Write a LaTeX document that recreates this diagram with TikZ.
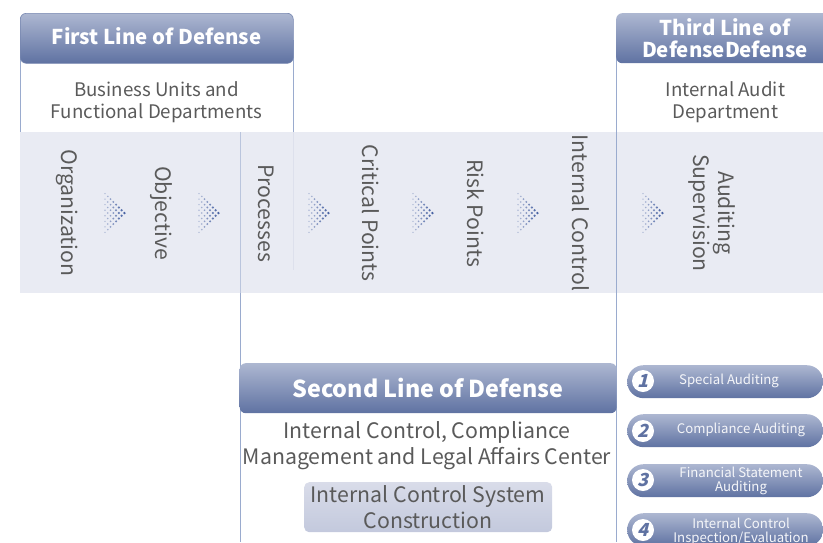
\documentclass[tikz,border=0pt]{standalone}
\usepackage{xcolor}
\usepackage{fontspec}
\setmainfont{Noto Sans CJK SC}
\newfontfamily\badgefont[FakeSlant=0.25]{Noto Sans CJK SC}
\definecolor{headtop}{HTML}{ADB7D1}
\definecolor{headbottom}{HTML}{5F72A2}
\definecolor{bandfill}{HTML}{E9EBF3}
\definecolor{rulecol}{HTML}{9AABCE}
\definecolor{fadecol}{HTML}{DDE0EC}
\definecolor{textcol}{HTML}{5A5A5A}
\definecolor{dotcol}{HTML}{4560A2}
\definecolor{boxtop}{HTML}{D9DCE9}
\definecolor{boxbottom}{HTML}{C3C9DD}
\tikzset{
  head/.style={shape=rectangle,rounded corners=6pt,top color=headtop,bottom color=headbottom,minimum height=50pt,anchor=north west,inner sep=0pt},
  headlabel/.style={text=white,align=center,inner sep=0pt,font=\bfseries\fontsize{20.4}{22}\selectfont},
  pill/.style={shape=rectangle,rounded corners=16.4pt,top color=headtop,bottom color=headbottom,minimum width=196pt,minimum height=33pt,anchor=north west,inner sep=0pt},
  pilltext/.style={text=white!88!headtop,align=center,inner sep=0pt,font=\fontsize{13.2}{14}\selectfont},
  badge/.style={shape=circle,fill=white,minimum size=22pt,inner sep=0pt,text=headbottom,font=\badgefont\bfseries\fontsize{18}{18}\selectfont},
  dept/.style={text=textcol,align=center,inner sep=0pt,font=\fontsize{18.7}{22}\selectfont},
  stage/.style={text=textcol,align=center,inner sep=0pt,rotate=-90,font=\fontsize{21.2}{25}\selectfont},
  rule/.style={draw=rulecol,line width=1pt}
}
\newcommand{\dotarrow}[1]{
  \foreach \i in {0,...,7}{
    \pgfmathsetmacro{\n}{7-\i}
    \foreach \j in {0,...,\n}{
      \fill[dotcol,opacity=0.35+0.09*\i] (#1+\i*2.77,213-\n*2.77+\j*5.54) circle (0.8pt+0.08pt*\i);
    }
  }
}
\begin{document}
\begin{tikzpicture}[x=1pt,y=-1pt]
  \useasboundingbox (0,0) rectangle (823,542);
  \clip (0,0) rectangle (823,542);
  \fill[bandfill] (20,132) rectangle (823,293);
  \coordinate (firstleft) at (20,40);
  \coordinate (firstleftend) at (20,132);
  \coordinate (firstright) at (293,40);
  \coordinate (firstrightend) at (293,132);
  \coordinate (firstfade) at (293,270);
  \coordinate (secondtop) at (240,132);
  \coordinate (secondmid) at (240,293);
  \coordinate (secondend) at (240,542);
  \coordinate (thirdtop) at (616,40);
  \coordinate (thirdend) at (616,542);
  \draw[rule] (firstleft) -- (firstleftend);
  \draw[rule] (firstright) -- (firstrightend);
  \draw[draw=fadecol,line width=0.9pt] (firstrightend) -- (firstfade);
  \draw[draw=rulecol!60!bandfill,line width=0.8pt] (secondtop) -- (secondmid);
  \draw[rule] (secondmid) -- (secondend);
  \draw[rule] (thirdtop) -- (thirdend);

  \node[head,draw=headbottom!85!white,line width=0.6pt,minimum width=273pt] (first) at (20,13) {};
  \node[headlabel] (firstlabel) at (156.5,36) {First Line of Defense};
  \node[head,minimum width=217pt] (third) at (616,13) {};
  \node[headlabel] (thirdlabel) at (725,38) {Third Line of\\DefenseDefense};
  \node[head,minimum width=377pt] (second) at (239.5,363) {};
  \node[headlabel,font=\bfseries\fontsize{23.3}{26}\selectfont] (secondlabel) at (428,388) {Second Line of Defense};

  \node[dept] (firstdept) at (156.5,102.5) {Business Units and\\Functional Departments};
  \node[dept] (thirddept) at (725.5,102.5) {Internal Audit\\Department};
  \node[dept,font=\fontsize{21.3}{26}\selectfont] (seconddept) at (427,445.5) {Internal Control, Compliance\\Management and Legal Affairs Center};
  \node[shape=rectangle,rounded corners=5pt,top color=boxtop,bottom color=boxbottom,minimum width=248pt,minimum height=50pt,anchor=north west,inner sep=0pt] (system) at (304,482) {};
  \node[dept,font=\fontsize{21.3}{26}\selectfont] (systemlabel) at (428,507.5) {Internal Control System\\Construction};

  \node[stage] (organization) at (67.5,213) {Organization};
  \node[stage] (objective) at (161.5,213) {Objective};
  \node[stage] (processes) at (266,213) {Processes};
  \node[stage] (critical) at (371,213) {Critical Points};
  \node[stage] (risk) at (476,213) {Risk Points};
  \node[stage] (control) at (581,213) {Internal Control};
  \node[stage] (auditing) at (712,213) {Auditing\\Supervision};

  \dotarrow{105}
  \dotarrow{199}
  \dotarrow{309}
  \dotarrow{413}
  \dotarrow{518}
  \dotarrow{643}

  \node[pill] (special) at (627,365) {};
  \node[pill] (compliance) at (627,414) {};
  \node[pill] (financial) at (627,464) {};
  \node[pill] (inspection) at (627,513) {};
  \node[badge] (one) at (643,381) {1};
  \node[badge] (two) at (643,431) {2};
  \node[badge] (three) at (643,480) {3};
  \node[badge] (four) at (643,530) {4};
  \node[pilltext] (speciallabel) at (729,380.5) {Special Auditing};
  \node[pilltext] (compliancelabel) at (741,429.5) {Compliance Auditing};
  \node[pilltext] (financiallabel) at (741,480.5) {Financial Statement\\Auditing};
  \node[pilltext] (inspectionlabel) at (741,531.5) {Internal Control\\Inspection/Evaluation};
\end{tikzpicture}
\end{document}
